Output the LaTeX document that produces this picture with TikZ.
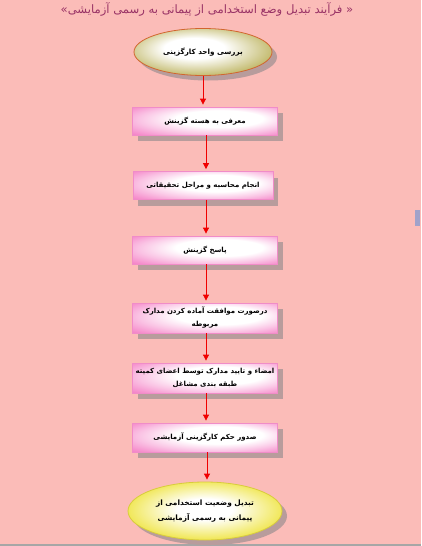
\documentclass[tikz,border=0pt]{standalone}
\usepackage{fontspec}
\newfontfamily\fa[Script=Arabic]{DejaVu Sans}
\TeXXeTstate=1
\usetikzlibrary{shapes.geometric,arrows.meta,shadows}
\definecolor{bgpink}{HTML}{FBBCB8}
\definecolor{titlecol}{HTML}{993366}
\definecolor{boxpink}{HTML}{F47CC4}
\definecolor{boxedge}{HTML}{F08CC8}
\definecolor{shadowcol}{HTML}{B89C9C}
\definecolor{olive}{HTML}{BDB460}
\definecolor{oliveedge}{HTML}{D2652E}
\definecolor{yell}{HTML}{F0E650}
\definecolor{yelledge}{HTML}{D8CC3C}
\definecolor{arrred}{HTML}{F00000}
\definecolor{tabcol}{HTML}{A0A2CA}
\pgfdeclareradialshading{boxshade}{\pgfpoint{7bp}{6bp}}{color(0bp)=(white); color(15bp)=(white); color(26bp)=(boxpink!45!white); color(38bp)=(boxpink); color(50bp)=(boxpink)}
\pgfdeclareradialshading{oliveshade}{\pgfpoint{-4bp}{5bp}}{color(0bp)=(white); color(11bp)=(white); color(29bp)=(olive); color(50bp)=(olive)}
\pgfdeclareradialshading{yellshade}{\pgfpoint{0bp}{2bp}}{color(0bp)=(white); color(9bp)=(white); color(26bp)=(yell); color(50bp)=(yell)}
\tikzset{
  stepbox/.style={draw=boxedge, line width=0.8pt, minimum width=145pt, minimum height=28pt,
    inner sep=2pt, align=center, font=\fa\bfseries\fontsize{7}{13}\selectfont,
    shading=boxshade,
    drop shadow={shadow xshift=5pt, shadow yshift=-6pt, fill=shadowcol, opacity=1}},
  startell/.style={ellipse, draw=oliveedge, line width=0.8pt, minimum width=138pt, minimum height=47pt,
    inner sep=0pt, align=center, font=\fa\bfseries\fontsize{7.2}{12}\selectfont,
    shading=oliveshade,
    drop shadow={shadow xshift=5pt, shadow yshift=-5pt, fill=shadowcol, opacity=1}},
  endell/.style={ellipse, draw=yelledge, line width=0.8pt, minimum width=154pt, minimum height=58pt,
    inner sep=0pt, align=center, font=\fa\bfseries\fontsize{7.4}{15}\selectfont,
    shading=yellshade,
    drop shadow={shadow xshift=5pt, shadow yshift=-5pt, fill=shadowcol, opacity=1}},
  arr/.style={draw=arrred, line width=0.8pt, -{Triangle[width=6pt,length=6pt]}, shorten >=2pt}
}
\begin{document}
\begin{tikzpicture}[x=1pt,y=-1pt]
\fill[bgpink] (0,0) rectangle (421,546);
\useasboundingbox (0,0) rectangle (421,546);
\fill[gray!70] (0,544) rectangle (421,546);
\fill[tabcol] (415,210) rectangle (420,226);
\node[font=\fa\fontsize{11.6}{13}\selectfont, text=titlecol] (title) at (207,9)
  {\beginR « فرآیند تبدیل وضع استخدامی از پیمانی به رسمی آزمایشی»\endR};
\node[startell] (e1) at (203,52) {\beginR بررسی واحد کارگزینی\endR};
\node[stepbox] (b2) at (205,121) {\beginR معرفی به هسته گزینش\endR};
\node[stepbox, minimum width=140pt] (b3) at (203,185.5) {\beginR انجام محاسبه و مراحل تحقیقاتی\endR};
\node[stepbox] (b4) at (205,250) {\beginR پاسخ گزینش\endR};
\node[stepbox, minimum height=30pt] (b5) at (205,318) {\beginR درصورت موافقت آماده کردن مدارک\endR\\\beginR مربوطه\endR};
\node[stepbox, minimum height=30pt] (b6) at (205,378) {\beginR امضاء و تایید مدارک توسط اعضای کمیته\endR\\\beginR طبقه بندی مشاغل\endR};
\node[stepbox, minimum height=29pt] (b7) at (205,437.5) {\beginR صدور حکم کارگزینی آزمایشی\endR};
\node[endell] (e2) at (205,511) {\beginR تبدیل وضعیت استخدامی از\endR\\\beginR پیمانی به رسمی آزمایشی\endR};
\draw[arr] (e1.south) -- (e1.south |- b2.north);
\draw[arr] (b2.south -| 206,0) -- (b3.north -| 206,0);
\draw[arr] (b3.south -| 206,0) -- (b4.north -| 206,0);
\draw[arr] (b4.south -| 206,0) -- (b5.north -| 206,0);
\draw[arr] (b5.south -| 206,0) -- (b6.north -| 206,0);
\draw[arr] (b6.south -| 206,0) -- (b7.north -| 206,0);
\draw[arr] (b7.south -| 207,0) -- (e2.north -| 207,0);
\end{tikzpicture}
\end{document}
